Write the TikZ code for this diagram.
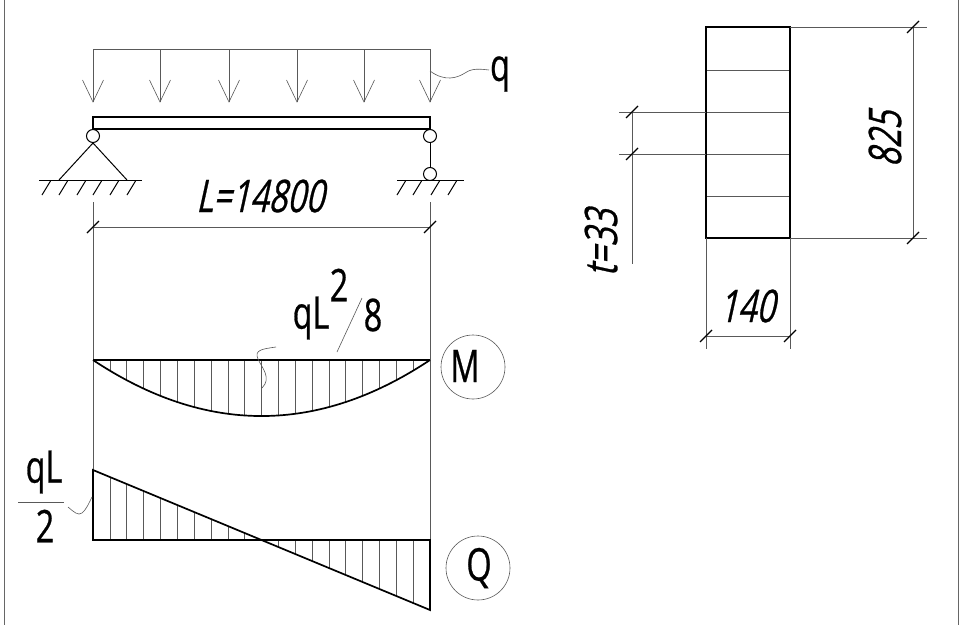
\documentclass[tikz,border=0pt]{standalone}
\usepackage{fontspec}
\setmainfont{Open Sans}
\newfontfamily\dimfont[FakeSlant=0.22,FakeStretch=0.72,FakeBold=0.6]{Open Sans}
\newfontfamily\upfont[FakeStretch=0.72,FakeBold=0.6]{Open Sans}
\tikzset{
	thin line/.style={line width=0.6,black!65},
	main line/.style={line width=1.7},
	mid line/.style={line width=1},
	dim tick/.style={line width=1.1},
	dim text/.style={inner sep=0,font=\dimfont\fontsize{45}{45}\selectfont},
	plain text/.style={inner sep=0,font=\upfont\fontsize{45}{45}\selectfont},
}
\begin{document}
\begin{tikzpicture}[x=1pt,y=-1pt]
	\useasboundingbox (0,0) rectangle (960,624);
	\fill[white] (0,0) rectangle (960,624);
	\draw[line width=1,black!60] (4,-2) -- (4,626);
	\draw[line width=1,black!60] (958.5,-2) -- (958.5,626);
	% distributed load
	\coordinate (LL) at (93,49);
	\coordinate (LR) at (430,49);
	\draw[thin line] (LL) -- (LR);
	\foreach \x in {93,160,229,297,364,430} {
		\draw[thin line] (\x,49) -- (\x,102);
		\draw[thin line] (\x-10.5,80) -- (\x,102) -- (\x+10.5,80);
	}
	\node[plain text] (q) at (500,74) {q};
	\coordinate (qend) at (489,70);
	\draw[thin line] (430,71) .. controls (445,82) and (457,78) .. (465,73) .. controls (472,68) and (480,69) .. (qend);
	% beam and supports
	\draw[main line] (93,117) rectangle (430,129);
	\coordinate (A) at (93,136);
	\coordinate (B) at (430,136);
	\coordinate (C) at (430,174);
	\draw[mid line] (A) circle (6.5);
	\draw[mid line] (B) circle (6.5);
	\draw[mid line] (C) circle (6.5);
	\draw[mid line] (B) ++(0,6.5) -- (430,167.5);
	\draw[mid line] (59,180) -- (93,143) -- (127,180);
	\draw[mid line] (39,180) -- (142,180);
	\draw[mid line] (397,180) -- (464,180);
	\foreach \x in {42,59,77,93,110,127,397,413,431,448}
		\draw[mid line] (\x,195) -- (\x+8.5,181);
	% span dimension
	\draw[thin line] (93,202) -- (93,470);
	\draw[thin line] (430,202) -- (430,540);
	\draw[thin line] (93,227) -- (430,227);
	\draw[dim tick] (87,233) -- (99,221);
	\draw[dim tick] (424,233) -- (436,221);
	\node[dim text] (span) at (260,196) {L=14800};
	% moment diagram
	\foreach \i in {1,...,19}
		\draw[thin line] ({93+16.85*\i},360) -- ({93+16.85*\i},{360+224*\i/20*(1-\i/20)});
	\draw[main line] (93,360) -- (430,360);
	\draw[main line] (93,360) .. controls (205.3,434.7) and (317.7,434.7) .. (430,360);
	\node[plain text] (qL) at (311,318) {qL};
	\node[plain text] (sq) at (339,285) {2};
	\node[plain text] (ei) at (373,315) {8};
	\draw[thin line] (362,298) -- (337,352);
	\draw[thin line] (276,347) .. controls (262,349) and (254,350) .. (258,359) .. controls (262,368) and (272,378) .. (262,388);
	\draw[thin line] (473,367) circle (32);
	\node[plain text] (M) at (465,366) {M};
	% shear diagram
	\foreach \i in {1,...,9}
		\draw[thin line] ({93+16.85*\i},540) -- ({93+16.85*\i},{470+7*\i});
	\foreach \i in {11,...,19}
		\draw[thin line] ({93+16.85*\i},540) -- ({93+16.85*\i},{470+7*\i});
	\draw[main line] (93,540) -- (93,470) -- (430,610) -- (430,540) -- cycle;
	\node[plain text] (qLb) at (44,472) {qL};
	\node[plain text] (two) at (45,526) {2};
	\draw[thin line] (18,502) -- (64,502);
	\draw[thin line] (68,507) .. controls (74,512) and (78,516) .. (82,513) .. controls (86,510) and (89,503) .. (92,497);
	\draw[thin line] (478,568) circle (32);
	\node[plain text] (Q) at (479,568) {Q};
	% section
	\foreach \y in {70,112,154,196}
		\draw[thin line] (706,\y) -- (790,\y);
	\draw[main line] (706,27) rectangle (790,238);
	\draw[thin line] (619,112) -- (706,112);
	\draw[thin line] (619,154) -- (706,154);
	\draw[thin line] (632,112) -- (632,264);
	\draw[dim tick] (626,118) -- (638,106);
	\draw[dim tick] (626,160) -- (638,148);
	\node[dim text,rotate=90] (t) at (601,243) {t=33};
	\draw[thin line] (790,27) -- (927,27);
	\draw[thin line] (790,238) -- (927,238);
	\draw[thin line] (913,27) -- (913,238);
	\draw[dim tick] (907,33) -- (919,21);
	\draw[dim tick] (907,244) -- (919,232);
	\node[dim text,rotate=90] (h) at (885,139) {825};
	\draw[thin line] (706,238) -- (706,349);
	\draw[thin line] (790,238) -- (790,349);
	\draw[thin line] (706,336) -- (790,336);
	\draw[dim tick] (700,342) -- (712,330);
	\draw[dim tick] (784,342) -- (796,330);
	\node[dim text] (b) at (747,306) {140};
\end{tikzpicture}
\end{document}
